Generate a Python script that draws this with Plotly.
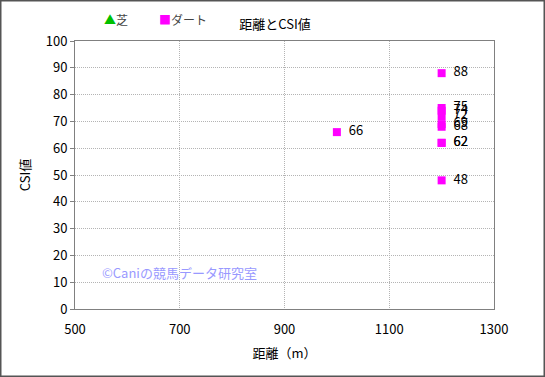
import plotly.graph_objects as go

# 芝 (turf) has no points; ダート (dirt) points
turf_dist = [None]
turf_csi = [None]
dirt_dist = [1000, 1200, 1200, 1200, 1200, 1200, 1200, 1200, 1200, 1200]
dirt_csi = [66, 88, 75, 74, 72, 69, 68, 62, 62, 48]

series_names = ["芝", "ダート"]
series_colors = ["#00C000", "#FF00FF"]
series_symbols = ["▲", "■"]

x_ticks = [500, 700, 900, 1100, 1300]
y_ticks = [0, 10, 20, 30, 40, 50, 60, 70, 80, 90, 100]

FONT = "Noto Sans CJK JP, Liberation Sans, sans-serif"

fig = go.Figure()
fig.add_trace(go.Scatter(
    x=turf_dist, y=turf_csi, name=series_names[0], mode="markers",
    marker=dict(symbol="triangle-up", color=series_colors[0], size=9),
))
fig.add_trace(go.Scatter(
    x=dirt_dist, y=dirt_csi, name=series_names[1], mode="markers+text",
    marker=dict(symbol="square", color=series_colors[1], size=8),
    text=["  " + str(v) for v in dirt_csi], textposition="middle right",
    textfont=dict(size=13, color="#000000", family=FONT),
))

L, R, T, B = 75, 51, 41, 68
W, H = 545, 377
pw, ph = W - L - R, H - T - B

def px_x(x):
    return (x - L) / pw

def px_y(y):
    return 1 - (y - T) / ph

legend_ann = []
for nm, col, sym, xpos in zip(series_names, series_colors, series_symbols, [102, 157]):
    legend_ann.append(dict(
        text=f"<span style='color:{col}'>{sym}</span>{nm}", xref="paper", yref="paper",
        x=px_x(xpos), y=px_y(19), xanchor="left", yanchor="middle", showarrow=False,
        font=dict(size=12, color="#444444", family=FONT),
    ))

fig.update_layout(
    width=W, height=H,
    margin=dict(l=L, r=R, t=T, b=B),
    paper_bgcolor="white", plot_bgcolor="white",
    font=dict(family=FONT, size=13, color="#000000"),
    title=dict(text="距離とCSI値", x=275 / W, xanchor="center", y=1 - 24 / H,
               yanchor="middle", font=dict(size=13, family=FONT)),
    showlegend=False,
    xaxis=dict(range=[500, 1300], tickvals=x_ticks, ticks="", showline=True,
               linecolor="#808080", linewidth=1, mirror=True,
               showgrid=True, gridcolor="#b4b4b4", griddash="1px,1px", gridwidth=1,
               zeroline=False, tickfont=dict(size=13), ticklabelstandoff=8,
               title=dict(text="距離（m）", font=dict(size=13), standoff=12)),
    yaxis=dict(range=[0, 100], tickvals=y_ticks, ticks="outside", ticklen=4,
               tickcolor="#808080", showline=True,
               linecolor="#808080", linewidth=1, mirror=True,
               showgrid=True, gridcolor="#b4b4b4", griddash="1px,1px", gridwidth=1,
               zeroline=False, tickfont=dict(size=13),
               title=dict(text="CSI値", font=dict(size=13), standoff=12)),
    annotations=legend_ann + [dict(
        text="©Caniの競馬データ研究室", xref="paper", yref="paper",
        x=px_x(100), y=px_y(272), xanchor="left", yanchor="middle",
        showarrow=False, font=dict(size=13, color="#9999FF", family=FONT),
    )],
    shapes=[dict(
        type="rect", xref="paper", yref="paper",
        x0=px_x(0.75), x1=px_x(W - 0.75),
        y0=px_y(H - 0.75), y1=px_y(0.75),
        line=dict(color="#555555", width=1.5), fillcolor="rgba(0,0,0,0)",
        layer="below",
    )],
)

fig.write_html("out.html", config={"displayModeBar": False},
               post_script="document.body.style.margin='0';")
